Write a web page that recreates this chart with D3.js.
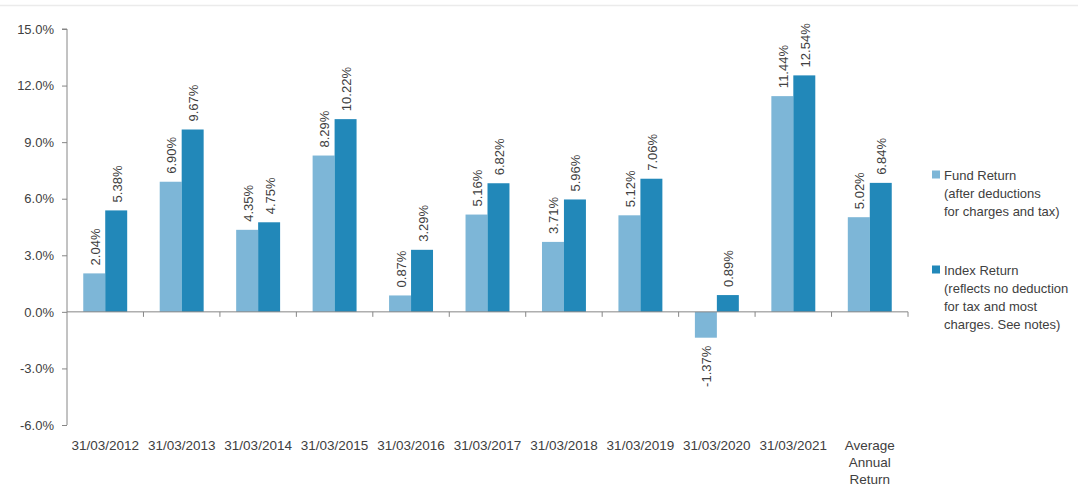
<!DOCTYPE html>
<html>
<head>
<meta charset="utf-8">
<script src="https://cdn.jsdelivr.net/npm/d3@7"></script>
<style>
  html, body { margin: 0; padding: 0; background: #ffffff; }
  svg { display: block; font-family: "Liberation Sans", Arial, sans-serif; }
</style>
</head>
<body>
<svg id="chart" width="1078" height="494"></svg>
<script>
const categories = ["31/03/2012", "31/03/2013", "31/03/2014", "31/03/2015", "31/03/2016",
  "31/03/2017", "31/03/2018", "31/03/2019", "31/03/2020", "31/03/2021", "Average\nAnnual\nReturn"];
const fundReturn = [2.04, 6.90, 4.35, 8.29, 0.87, 5.16, 3.71, 5.12, -1.37, 11.44, 5.02];
const indexReturn = [5.38, 9.67, 4.75, 10.22, 3.29, 6.82, 5.96, 7.06, 0.89, 12.54, 6.84];
const yTicks = [-6, -3, 0, 3, 6, 9, 12, 15];
const seriesNames = ["fund", "index"];
const legendLabels = [
  ["Fund Return", "(after deductions", "for charges and tax)"],
  ["Index Return", "(reflects no deduction", "for tax and most", "charges. See notes)"]
];
const colors = { fund: "#7db6d7", index: "#2288b9" };

const svg = d3.select("#chart");
const textColor = "#404040";
const axisColor = "#868686";

// top separator line
svg.append("line").attr("x1", 0).attr("x2", 1078).attr("y1", 5.5).attr("y2", 5.5)
  .attr("stroke", "#ebebeb").attr("stroke-width", 1.5);

const x = d3.scaleBand().domain(categories).range([67, 908]).paddingInner(0).paddingOuter(0);
const xi = d3.scaleBand().domain(seriesNames).range([0, x.bandwidth()]).paddingInner(0).paddingOuter(0.74);
const y = d3.scaleLinear().domain([-6, 15]).range([425, 29]);

const data = categories.map((c, i) => ({ cat: c, fund: fundReturn[i], index: indexReturn[i] }));

// bars
const groups = svg.append("g").selectAll("g").data(data).join("g")
  .attr("transform", d => `translate(${x(d.cat)},0)`);

groups.selectAll("rect").data(d => seriesNames.map(s => ({ s, v: d[s] }))).join("rect")
  .attr("x", d => xi(d.s))
  .attr("width", xi.bandwidth())
  .attr("y", d => y(Math.max(0, d.v)))
  .attr("height", d => Math.abs(y(d.v) - y(0)))
  .attr("fill", d => colors[d.s]);

// value labels
groups.selectAll("text").data(d => seriesNames.map(s => ({ s, v: d[s] }))).join("text")
  .attr("transform", d => {
    const cx = xi(d.s) + xi.bandwidth() / 2 + 1;
    const cy = d.v >= 0 ? y(d.v) - 8 : y(d.v) + 8;
    return `translate(${cx},${cy}) rotate(-90)`;
  })
  .attr("text-anchor", d => d.v >= 0 ? "start" : "end")
  .attr("dominant-baseline", "central")
  .attr("font-size", "13px")
  .attr("fill", textColor)
  .text(d => d.v.toFixed(2) + "%");

// y axis
const yAxis = svg.append("g").attr("transform", "translate(67,0)")
  .call(d3.axisLeft(y).tickValues(yTicks).tickSize(5).tickPadding(8).tickFormat(d => d.toFixed(1) + "%"));
yAxis.select(".domain").attr("stroke", axisColor).attr("d", `M-5,${y(15)}H0V${y(-6)}`);
yAxis.selectAll(".tick line").attr("stroke", axisColor);
yAxis.selectAll(".tick text").attr("fill", textColor).attr("font-size", "13px")
  .attr("font-family", "Liberation Sans, Arial, sans-serif");

// x axis at zero
const xAxisG = svg.append("g").attr("transform", `translate(0,${y(0)})`);
xAxisG.append("line").attr("x1", 67).attr("x2", 908).attr("y1", 0).attr("y2", 0)
  .attr("stroke", axisColor);
const bounds = categories.map(c => x(c)).concat([x(categories[categories.length - 1]) + x.bandwidth()]);
xAxisG.selectAll("line.tk").data(bounds.slice(1)).join("line").attr("class", "tk")
  .attr("x1", d => d).attr("x2", d => d).attr("y1", 0).attr("y2", 5).attr("stroke", axisColor);

// category labels
const catLabels = svg.append("g").selectAll("text").data(categories).join("text")
  .attr("x", d => x(d) + x.bandwidth() / 2)
  .attr("y", 450)
  .attr("text-anchor", "middle")
  .attr("font-size", "13.5px")
  .attr("fill", textColor);
catLabels.each(function(d) {
  const lines = d.split("\n");
  d3.select(this).selectAll("tspan").data(lines).join("tspan")
    .attr("x", x(d) + x.bandwidth() / 2)
    .attr("dy", (l, i) => i === 0 ? 0 : 17)
    .text(l => l);
});

// legend
const legendY = [175, 270];
seriesNames.forEach((s, i) => {
  const g = svg.append("g");
  g.append("rect").attr("x", 932).attr("y", legendY[i] - 4.5).attr("width", 8).attr("height", 8)
    .attr("fill", colors[s]);
  const t = g.append("text").attr("x", 944).attr("y", legendY[i] + 4.5)
    .attr("font-size", "13px").attr("fill", textColor);
  t.selectAll("tspan").data(legendLabels[i]).join("tspan")
    .attr("x", 944).attr("dy", (l, j) => j === 0 ? 0 : 18).text(l => l);
});
</script>
</body>
</html>
